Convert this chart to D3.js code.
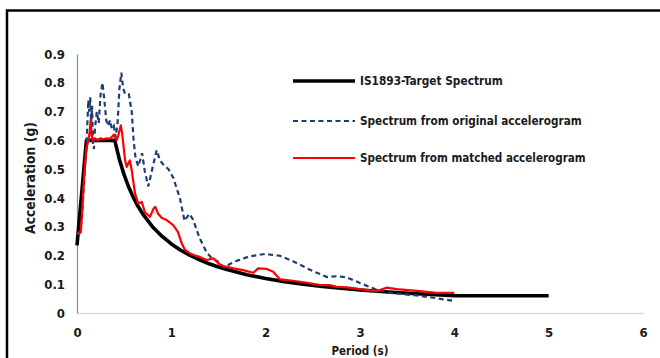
<!DOCTYPE html>
<html><head><meta charset="utf-8">
<script src="https://cdn.jsdelivr.net/npm/d3@7"></script>
<style>
html,body{margin:0;padding:0;background:#fff;}
svg{display:block;}
text{font-family:"Liberation Sans Narrow","DejaVu Sans Condensed",Roboto,sans-serif;font-weight:bold;fill:#1a1a1a;}
</style></head><body>
<svg id="c" width="660" height="358"></svg>
<script>
// ---- data ----
const xTicks = [0,1,2,3,4,5,6];
const yTicks = [0,0.1,0.2,0.3,0.4,0.5,0.6,0.7,0.8,0.9];
const seriesNames = ["IS1893-Target Spectrum","Spectrum from original accelerogram","Spectrum from matched accelerogram"];

const targetT = [0,0.1,0.4,0.45,0.5,0.55,0.6,0.65,0.7,0.8,0.9,1.0,1.1,1.2,1.3,1.4,1.5,1.6,1.8,2.0,2.2,2.4,2.6,2.8,3.0,3.3,3.6,4.0,5.0];
const targetSa = [0.235,0.6,0.6,0.533,0.48,0.436,0.4,0.369,0.343,0.3,0.267,0.24,0.218,0.2,0.185,0.171,0.16,0.15,0.133,0.12,0.109,0.1,0.092,0.086,0.08,0.073,0.067,0.06,0.06];

const originalT = [0.02,0.05,0.08,0.1,0.11,0.12,0.13,0.14,0.15,0.16,0.17,0.18,0.19,0.21,0.23,0.25,0.27,0.29,0.31,0.33,0.35,0.37,0.39,0.41,0.43,0.45,0.47,0.49,0.51,0.55,0.58,0.6,0.62,0.65,0.69,0.72,0.756,0.79,0.845,0.88,0.93,0.97,1.02,1.09,1.14,1.19,1.23,1.3,1.375,1.43,1.5,1.56,1.62,1.7,1.83,1.99,2.15,2.29,2.47,2.65,2.76,2.86,3.0,3.16,3.32,3.6,3.78,3.99];
const originalSa = [0.27,0.32,0.48,0.58,0.66,0.74,0.70,0.75,0.66,0.72,0.58,0.57,0.64,0.70,0.66,0.76,0.80,0.74,0.67,0.65,0.67,0.64,0.65,0.61,0.66,0.78,0.835,0.78,0.76,0.76,0.70,0.60,0.54,0.51,0.555,0.49,0.44,0.49,0.566,0.53,0.51,0.50,0.47,0.40,0.32,0.345,0.325,0.26,0.21,0.19,0.178,0.158,0.17,0.182,0.197,0.205,0.199,0.18,0.15,0.125,0.128,0.124,0.104,0.083,0.07,0.061,0.053,0.042];

const matchedT = [0,0.04,0.06,0.08,0.1,0.12,0.135,0.145,0.155,0.165,0.19,0.22,0.25,0.28,0.31,0.34,0.37,0.39,0.42,0.44,0.465,0.48,0.49,0.51,0.527,0.56,0.58,0.615,0.65,0.686,0.72,0.774,0.81,0.83,0.86,0.9,0.95,1.02,1.07,1.11,1.145,1.2,1.25,1.3,1.375,1.445,1.5,1.55,1.66,1.76,1.87,1.92,2.01,2.08,2.15,2.29,2.44,2.58,2.68,2.75,2.86,3.04,3.18,3.28,3.39,3.6,3.81,4.0];
const matchedSa = [0.275,0.28,0.38,0.5,0.57,0.60,0.63,0.67,0.62,0.60,0.605,0.60,0.607,0.603,0.607,0.605,0.612,0.62,0.60,0.62,0.652,0.62,0.59,0.53,0.508,0.53,0.496,0.416,0.38,0.386,0.35,0.334,0.362,0.369,0.345,0.33,0.323,0.305,0.282,0.242,0.219,0.207,0.2,0.195,0.184,0.19,0.172,0.163,0.155,0.149,0.14,0.155,0.153,0.143,0.117,0.112,0.105,0.097,0.097,0.091,0.089,0.081,0.076,0.088,0.083,0.077,0.07,0.07];

// ---- chart ----
const svg = d3.select("#c");
const x = d3.scaleLinear().domain([0,6]).range([77,643]);
const y = d3.scaleLinear().domain([0,0.9]).range([313,54]);

// outer frame
svg.append("rect").attr("x",7).attr("y",10.5).attr("width",700).attr("height",400)
  .attr("fill","none").attr("stroke","#000").attr("stroke-width",2.5);

// axes
const xAxis = svg.append("g").attr("transform",`translate(0,${y(0)})`)
  .call(d3.axisBottom(x).tickValues(xTicks).tickSize(0).tickPadding(15).tickFormat(d3.format("d")));
xAxis.select(".domain").attr("stroke","#d9d9d9").attr("stroke-width",1.3);
xAxis.selectAll("text").attr("font-size",13).style("font-family",null);

const yAxis = svg.append("g").attr("transform",`translate(${x(0)},0)`)
  .call(d3.axisLeft(y).tickValues(yTicks).tickSize(0).tickPadding(12).tickFormat(d => d===0 ? "0" : d3.format(".1f")(d)));
yAxis.select(".domain").attr("stroke","#8c8c8c").attr("stroke-width",1.2);
yAxis.selectAll("text").attr("font-size",13).style("font-family",null);
svg.selectAll(".tick text").attr("fill","#1a1a1a");

function fit(sel, w){
  const n = sel.node();
  const base = parseFloat(sel.attr("font-size"));
  const len = n.getComputedTextLength();
  if(len>0) sel.attr("font-size", base*w/len);
}

// titles
const xt = svg.append("text").attr("x",360).attr("y",355).attr("text-anchor","middle")
  .attr("font-size",14).text("Period (s)");
fit(xt,57);
const yt = svg.append("text").attr("transform","translate(35,178) rotate(-90)").attr("text-anchor","middle")
  .attr("font-size",14).text("Acceleration (g)");
fit(yt,112);

// lines
const mk = (T,S) => T.map((t,i)=>({t, s:S[i]}));
const line = d3.line().x(d=>x(d.t)).y(d=>y(d.s));
const plot = svg.append("g");
plot.append("path").datum(mk(targetT,targetSa)).attr("d",line)
  .attr("fill","none").attr("stroke","#000").attr("stroke-width",3.6).attr("stroke-linejoin","round");
plot.append("path").datum(mk(originalT,originalSa)).attr("d",line)
  .attr("fill","none").attr("stroke","#1f3d73").attr("stroke-width",2.2).attr("stroke-dasharray","5,3.5");
plot.append("path").datum(mk(matchedT,matchedSa)).attr("d",line)
  .attr("fill","none").attr("stroke","#ff0000").attr("stroke-width",2.2).attr("stroke-linejoin","round");

// legend
const legY = [81,121,158];
const legW = [143,222,226];
const legStyle = [
  {stroke:"#000", w:3.6, dash:null},
  {stroke:"#1f3d73", w:2.2, dash:"5,3.5"},
  {stroke:"#ff0000", w:2.2, dash:null}
];
seriesNames.forEach((name,i)=>{
  const g = svg.append("g");
  g.append("line").attr("x1",293).attr("x2",355).attr("y1",legY[i]).attr("y2",legY[i])
    .attr("stroke",legStyle[i].stroke).attr("stroke-width",legStyle[i].w)
    .attr("stroke-dasharray",legStyle[i].dash);
  const t = g.append("text").attr("x",360).attr("y",legY[i]).attr("dy","0.35em")
    .attr("font-size",14).text(name);
  fit(t, legW[i]);
});
</script>
</body></html>
